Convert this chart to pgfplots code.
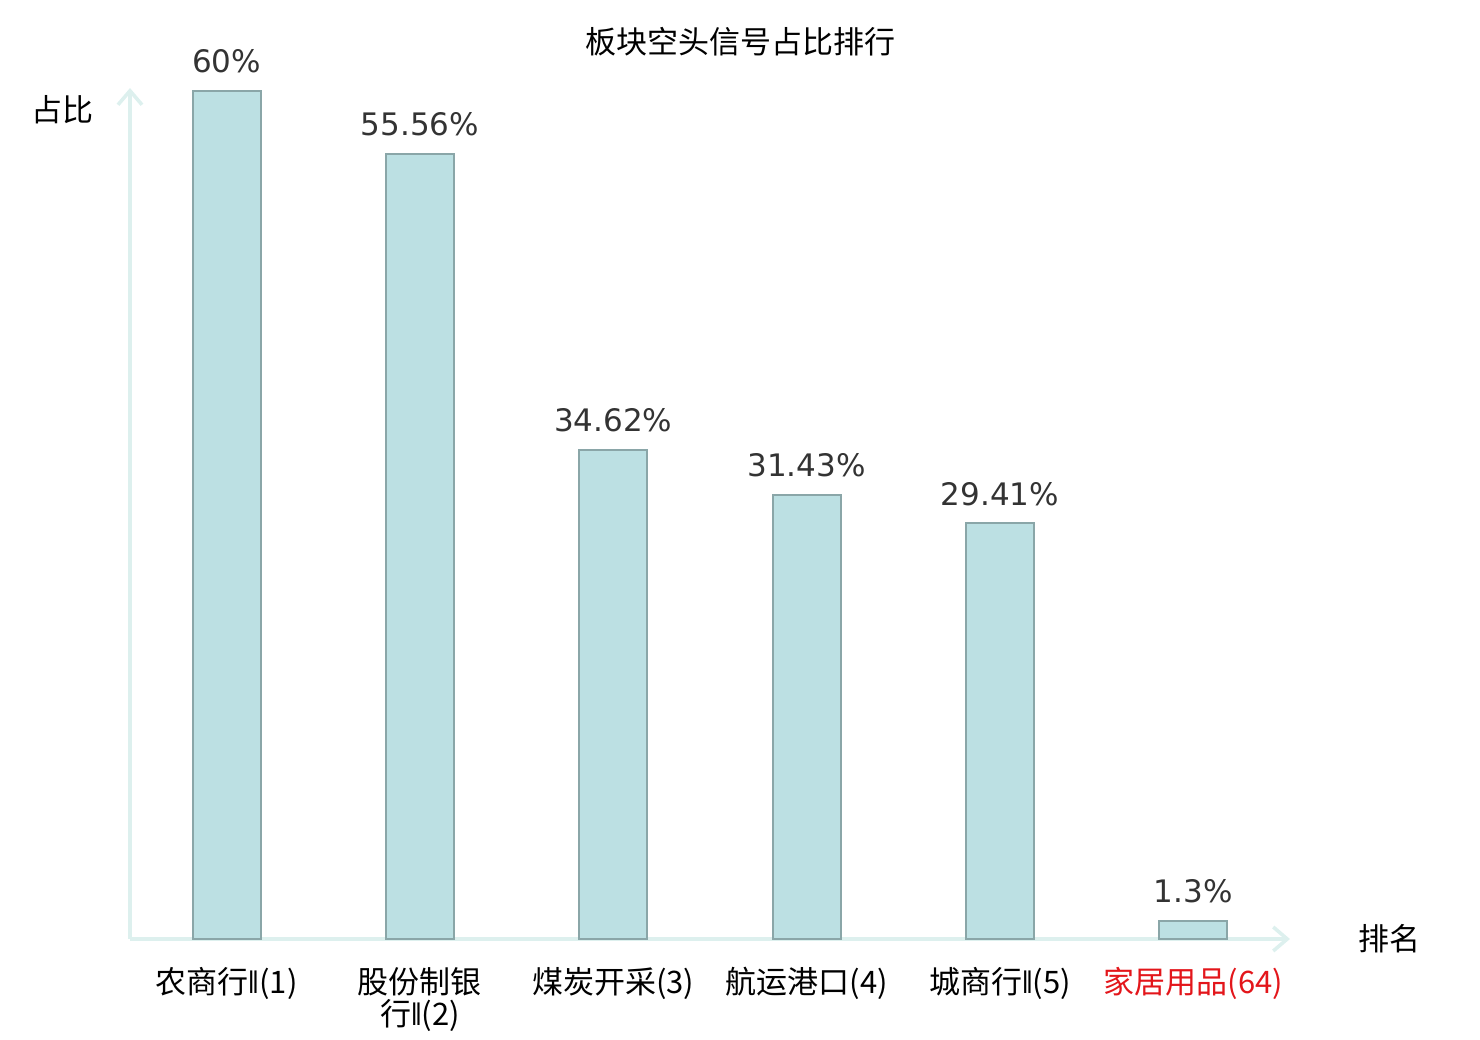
\documentclass[border=0pt]{standalone}
\usepackage{pgfplots}
\pgfplotsset{compat=1.18}
\usepackage{fontspec}
\usepackage{graphicx}
\usetikzlibrary{arrows.meta}
\newfontfamily\cjk{Noto Sans CJK SC}
\newfontfamily\dejavu{DejaVu Sans}
\newcommand{\rmii}{{\dejavu\scalebox{0.7}[1]{Ⅱ}}}
\definecolor{barfill}{HTML}{BCE0E3}
\definecolor{baredge}{HTML}{8AA6A8}
\definecolor{axiscol}{HTML}{DDF0EE}
\definecolor{valcol}{HTML}{333333}
\definecolor{redlab}{HTML}{E3161B}
\begin{document}
\begin{tikzpicture}
\useasboundingbox (-65pt,-50.5pt) rectangle (675pt,469.5pt);
\begin{axis}[
  scale only axis,
  width=580pt, height=425.5pt,
  xmin=-0.5, xmax=5.5, ymin=0, ymax=60.2,
  axis lines=left,
  axis line style={draw=axiscol, line width=1.8pt},
  x axis line style={-{Straight Barb[length=7pt,width=12pt,line width=1.8pt]}},
  y axis line style={-{Straight Barb[length=7pt,width=12pt,line width=1.8pt]}},
  ytick=\empty,
  xtick=data,
  major tick length=0pt,
  xticklabels={农商行\rmii(1), {股份制银\\行\rmii(2)}, 煤炭开采(3), 航运港口(4), 城商行\rmii(5), \textcolor{redlab}{家居用品(64)}},
  xticklabel style={font=\cjk\fontsize{15.5}{16}\selectfont, align=center, anchor=north, inner sep=0pt, yshift=-14pt, text=black},
  ybar, bar width=34pt,
  point meta=explicit symbolic,
  nodes near coords,
  every node near coord/.append style={font=\dejavu\fontsize{15.5}{18}\selectfont, text=valcol, anchor=base, inner sep=0pt, yshift=9pt},
  title={板块空头信号占比排行},
  title style={font=\cjk\fontsize{15.5}{18}\selectfont, at={(axis description cs:0.526,1.040)}, anchor=center},
  ylabel={占比},
  ylabel style={font=\cjk\fontsize{15.5}{18}\selectfont, at={(axis description cs:-0.0578,0.974)}, rotate=-90, anchor=center},
  xlabel={排名},
  xlabel style={font=\cjk\fontsize{15.5}{18}\selectfont, at={(axis description cs:1.086,0)}, anchor=center},
]
\addplot[fill=barfill, draw=baredge, line width=1pt] coordinates {
  (0,60) [60\%]
  (1,55.56) [55.56\%]
  (2,34.62) [34.62\%]
  (3,31.43) [31.43\%]
  (4,29.41) [29.41\%]
  (5,1.3) [1.3\%]
};
\end{axis}
\end{tikzpicture}
\end{document}
